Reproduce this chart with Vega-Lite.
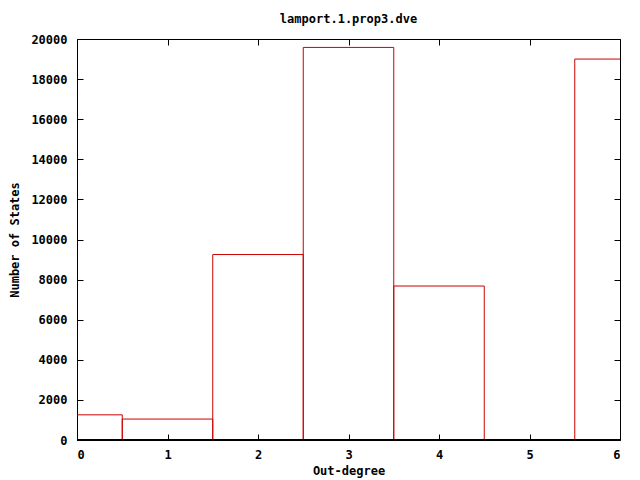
{
  "$schema": "https://vega.github.io/schema/vega-lite/v6.json",
  "width": 543,
  "height": 401,
  "autosize": {"type": "none"},
  "padding": {"left": 77, "top": 39, "right": 20, "bottom": 40},
  "background": "white",
  "title": {
    "text": "lamport.1.prop3.dve",
    "font": "DejaVu Sans Mono",
    "fontSize": 12,
    "fontWeight": "bold",
    "color": "black",
    "offset": 7,
    "anchor": "middle"
  },
  "config": {
    "view": {"stroke": "black", "strokeWidth": 1},
    "axis": {
      "labelFont": "DejaVu Sans Mono",
      "labelFontSize": 12,
      "labelFontWeight": "bold",
      "labelColor": "black",
      "titleFont": "DejaVu Sans Mono",
      "titleFontSize": 12,
      "titleFontWeight": "bold",
      "titleColor": "black",
      "grid": false,
      "domain": false,
      "tickColor": "black",
      "tickSize": -6,
      "labelPadding": 15
    }
  },
  "data": {
    "values": [
      {"degree": 0, "states": 1255},
      {"degree": 1, "states": 1045},
      {"degree": 2, "states": 9250},
      {"degree": 3, "states": 19580},
      {"degree": 4, "states": 7680},
      {"degree": 5, "states": 0},
      {"degree": 6, "states": 19000}
    ]
  },
  "transform": [
    {"calculate": "datum.degree - 0.5", "as": "lo"},
    {"calculate": "datum.degree + 0.5", "as": "hi"},
    {"calculate": "0", "as": "base"}
  ],
  "layer": [
    {
      "mark": {"type": "rect", "fillOpacity": 0, "stroke": "#cc0000", "strokeWidth": 1, "clip": true},
      "encoding": {
        "x": {
          "field": "lo", "type": "quantitative",
          "scale": {"domain": [0, 6], "nice": false, "zero": false},
          "axis": {"title": "Out-degree", "values": [0,1,2,3,4,5,6], "format": "d", "titlePadding": 5}
        },
        "x2": {"field": "hi"},
        "y": {
          "field": "states", "type": "quantitative",
          "scale": {"domain": [0, 20000], "nice": false},
          "axis": {"title": "Number of States", "values": [0,2000,4000,6000,8000,10000,12000,14000,16000,18000,20000], "format": "d", "labelPadding": 16, "titlePadding": 9}
        },
        "y2": {"field": "base"}
      }
    },
    {
      "mark": {"type": "point", "opacity": 0},
      "encoding": {
        "x": {"field": "degree", "type": "quantitative", "axis": {"orient": "top", "values": [0,1,2,3,4,5,6], "labels": false, "title": null}},
        "y": {"field": "states", "type": "quantitative", "axis": {"orient": "right", "values": [0,2000,4000,6000,8000,10000,12000,14000,16000,18000,20000], "labels": false, "title": null}}
      }
    },
    {
      "mark": {"type": "rule", "color": "black", "strokeWidth": 1},
      "encoding": {
        "y": {"field": "base", "type": "quantitative", "axis": null}
      }
    }
  ],
  "resolve": {"axis": {"x": "independent", "y": "independent"}}
}
